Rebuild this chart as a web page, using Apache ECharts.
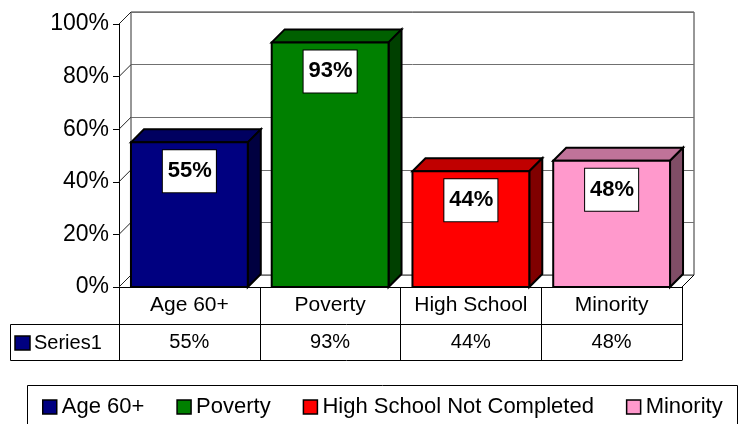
<!DOCTYPE html>
<html>
<head>
<meta charset="utf-8">
<script src="https://cdn.jsdelivr.net/npm/echarts@6/dist/echarts.min.js"></script>
<style>
  html, body { margin: 0; padding: 0; background: #fff; }
  #chart { width: 745px; height: 424px; }
</style>
</head>
<body>
<div id="chart"></div>
<script>
// ---- data ----
const categories = ['Age 60+', 'Poverty', 'High School', 'Minority'];
const legendNames = ['Age 60+', 'Poverty', 'High School Not Completed', 'Minority'];
const values = [55, 93, 44, 48];
const yTicks = [0, 20, 40, 60, 80, 100];
const rowName = 'Series1';

// ---- styling ----
const FONT = "'Liberation Sans', Arial, sans-serif";
const faceColors = [
  { front: '#000080', top: '#000060', side: '#000040' },
  { front: '#008000', top: '#006000', side: '#004000' },
  { front: '#ff0000', top: '#c00000', side: '#800000' },
  { front: '#ff99cc', top: '#c07399', side: '#804d66' }
];
const WALL_DEPTH = 12;   // offset of the back wall from the front plane
const BAR_DEPTH = 13;    // depth of each 3D column
const BAR_RATIO = 0.83;  // column width relative to its category band

const chart = echarts.init(document.getElementById('chart'), null, { renderer: 'canvas' });

// A 3D column: front face, top face, right side face and a boxed value label.
function columnRenderer(idx) {
  const c = faceColors[idx];
  return function (params, api) {
    const cat = api.value(0);
    const v = api.value(1);
    const base = api.coord([cat, 0]);
    const top = api.coord([cat, v]);
    const bw = api.size([1, 0])[0] * BAR_RATIO;
    const x0 = base[0] - bw / 2;
    const x1 = base[0] + bw / 2;
    const yb = base[1];
    const yt = top[1];
    const d = BAR_DEPTH;
    const edge = { stroke: '#000', lineWidth: 2, lineJoin: 'miter' };
    return {
      type: 'group',
      children: [
        {
          type: 'polygon',
          shape: { points: [[x0, yt], [x0 + d, yt - d], [x1 + d, yt - d], [x1, yt]] },
          style: Object.assign({ fill: c.top }, edge)
        },
        {
          type: 'polygon',
          shape: { points: [[x1, yt], [x1 + d, yt - d], [x1 + d, yb - d], [x1, yb]] },
          style: Object.assign({ fill: c.side }, edge)
        },
        {
          type: 'rect',
          shape: { x: x0, y: yt, width: bw, height: yb - yt },
          style: Object.assign({ fill: c.front }, edge)
        },
        {
          type: 'text',
          x: base[0],
          y: yt + 8,
          style: {
            text: v + '%',
            fontFamily: FONT,
            fontSize: 22,
            fontWeight: 'bold',
            fill: '#000',
            align: 'center',
            verticalAlign: 'top',
            lineHeight: 22,
            backgroundColor: '#fff',
            borderColor: '#000',
            borderWidth: 1,
            padding: [10, 4, 10, 5]
          }
        }
      ]
    };
  };
}

// Short diagonals joining the front value axis to the back wall, plus the floor's right edge.
function wallRenderer(params, api) {
  const v = api.value(1);
  const half = api.size([1, 0])[0] / 2;
  const p = api.coord([0, v]);
  const xl = p[0] - half;
  const children = [{
    type: 'line',
    shape: { x1: xl, y1: p[1], x2: xl + WALL_DEPTH, y2: p[1] - WALL_DEPTH },
    style: { stroke: '#222', lineWidth: 1 }
  }];
  if (v === 0) {
    const r = api.coord([categories.length - 1, 0]);
    const xr = r[0] + half;
    children.push({
      type: 'line',
      shape: { x1: xr, y1: r[1], x2: xr + WALL_DEPTH, y2: r[1] - WALL_DEPTH },
      style: { stroke: '#000', lineWidth: 1 }
    });
  }
  return { type: 'group', children: children };
}

const series = [{
  type: 'custom',
  xAxisIndex: 0,
  yAxisIndex: 0,
  silent: true,
  z: 3,
  data: yTicks.map(t => [0, t]),
  renderItem: wallRenderer
}];
values.forEach((v, i) => {
  series.push({
    type: 'custom',
    name: legendNames[i],
    xAxisIndex: 0,
    yAxisIndex: 0,
    z: 5,
    itemStyle: { color: faceColors[i].front },
    data: [[i, v]],
    renderItem: columnRenderer(i)
  });
});

const option = {
  animation: false,
  backgroundColor: '#fff',
  textStyle: { fontFamily: FONT },
  grid: [
    // front plane
    { left: 119, right: 63, top: 24, bottom: 137 },
    // back wall
    { left: 131, right: 51, top: 12, bottom: 149, show: true, borderColor: '#303030', borderWidth: 1 }
  ],
  xAxis: [
    {
      type: 'category',
      gridIndex: 0,
      data: categories,
      axisLine: { show: true, lineStyle: { color: '#000', width: 1 } },
      axisTick: { show: true, length: 73, lineStyle: { color: '#000', width: 1 } },
      axisLabel: {
        interval: 0,
        margin: 0,
        color: '#000',
        formatter: (val, idx) => '{c|' + val + '}\n{v|' + values[idx] + '%}',
        rich: {
          c: { fontFamily: FONT, fontSize: 21, lineHeight: 37, color: '#000' },
          v: { fontFamily: FONT, fontSize: 20, lineHeight: 36, color: '#000' }
        }
      }
    },
    {
      type: 'category',
      gridIndex: 1,
      data: categories,
      show: false
    }
  ],
  yAxis: [
    {
      type: 'value',
      gridIndex: 0,
      min: 0,
      max: 100,
      interval: 20,
      axisLine: { show: true, lineStyle: { color: '#000', width: 1 } },
      axisTick: { show: true, length: 6, lineStyle: { color: '#000' } },
      axisLabel: { formatter: '{value}%', fontFamily: FONT, fontSize: 23, color: '#000', margin: 10 },
      splitLine: { show: false }
    },
    {
      type: 'value',
      gridIndex: 1,
      min: 0,
      max: 100,
      interval: 20,
      axisLine: { show: false },
      axisTick: { show: false },
      axisLabel: { show: false },
      splitLine: { show: true, lineStyle: { color: '#707070', width: 1 } }
    }
  ],
  legend: {
    data: legendNames,
    left: 42,
    top: 396,
    padding: 0,
    icon: 'rect',
    itemWidth: 14,
    itemHeight: 14,
    itemGap: 32,
    selectedMode: false,
    itemStyle: { borderColor: '#000', borderWidth: 1.5 },
    textStyle: { fontFamily: FONT, fontSize: 22, color: '#000' }
  },
  graphic: [
    // data table rules
    { type: 'line', shape: { x1: 10.5, y1: 324.5, x2: 682.5, y2: 324.5 }, style: { stroke: '#000', lineWidth: 1 } },
    { type: 'line', shape: { x1: 10.5, y1: 360.5, x2: 682.5, y2: 360.5 }, style: { stroke: '#000', lineWidth: 1 } },
    { type: 'line', shape: { x1: 10.5, y1: 324.5, x2: 10.5, y2: 360.5 }, style: { stroke: '#000', lineWidth: 1 } },
    // row key of the data table
    { type: 'rect', shape: { x: 15, y: 336, width: 15, height: 14 }, style: { fill: faceColors[0].front, stroke: '#000', lineWidth: 1.5 } },
    { type: 'text', x: 34, y: 343, style: { text: rowName, fontFamily: FONT, fontSize: 20, fill: '#000', verticalAlign: 'middle' } },
    // legend frame
    { type: 'rect', shape: { x: 27.5, y: 385.5, width: 710, height: 60 }, style: { fill: 'none', stroke: '#000', lineWidth: 1 }, z: 0 }
  ],
  series: series
};

chart.setOption(option);
</script>
</body>
</html>
